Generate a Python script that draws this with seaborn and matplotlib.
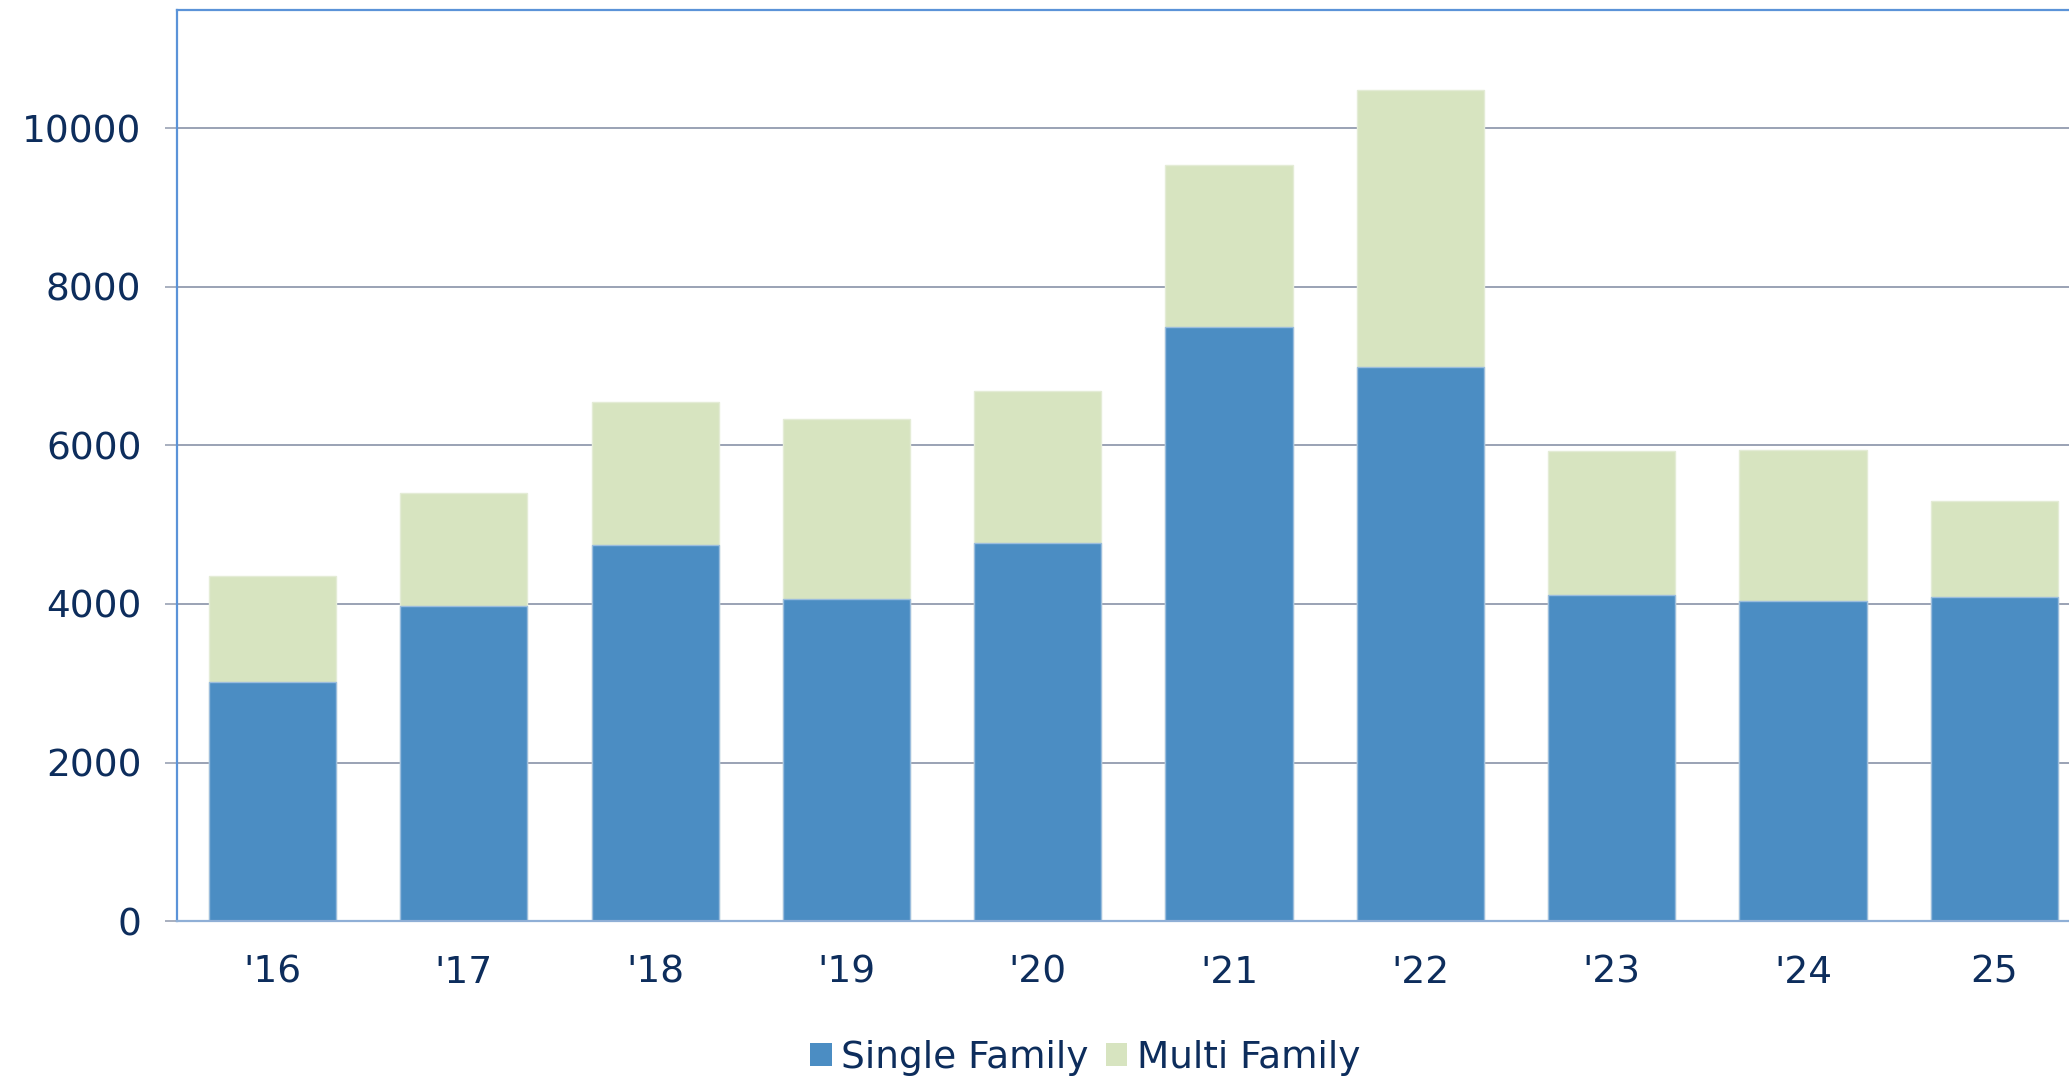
#!/usr/bin/env python3
# Stacked bars: single family vs multi family units per year
import matplotlib

matplotlib.use("Agg")
import matplotlib.pyplot as plt  # noqa: E402
from matplotlib.patches import Patch  # noqa: E402
from matplotlib.ticker import FixedLocator, MultipleLocator  # noqa: E402
import seaborn as sns  # noqa: E402

years = ["'16", "'17", "'18", "'19", "'20", "'21", "'22", "'23", "'24", "25"]
single_family = [3020, 3980, 4750, 4065, 4765, 7490, 6990, 4115, 4040, 4090]
multi_family = [1330, 1420, 1795, 2265, 1915, 2050, 3490, 1815, 1905, 1210]

BLUE = "#4B8DC3"
GREEN = "#D7E4C0"
TEXT = "#0D2D5C"
GRID = "#9AA2B4"


def plot(out_path):
    sns.set_style("white")
    plt.rcParams["font.family"] = ["DejaVu Sans"]

    fig = plt.figure(figsize=(20.69, 10.77), dpi=100)
    # axes runs a bit past the right edge, like the source
    ax = fig.add_axes([0.0855, 0.1446, 0.9246, 0.8462])

    totals = [s + m for s, m in zip(single_family, multi_family)]
    sns.barplot(ax=ax, x=years, y=totals, color=GREEN, saturation=1,
                width=0.665, edgecolor="#E4ECD6", linewidth=1)
    sns.barplot(ax=ax, x=years, y=single_family, color=BLUE, saturation=1,
                width=0.665, edgecolor="#9BBDDD", linewidth=1)

    ax.set_ylim(0, 11490)
    ax.set_xlim(-0.5, len(years) - 0.5)
    ax.yaxis.set_major_locator(MultipleLocator(2000))
    ax.set_axisbelow(True)
    ax.grid(axis="y", color=GRID, linewidth=1.4)
    ax.grid(axis="x", visible=False)

    ax.xaxis.set_minor_locator(FixedLocator([i - 0.5 for i in range(len(years) + 1)]))
    ax.tick_params(axis="x", which="major", length=0, pad=24, labelsize=27, labelcolor=TEXT)
    ax.tick_params(axis="x", which="minor", length=8, width=1.2, color=GRID, direction="out")
    ax.tick_params(axis="y", length=8.5, width=1.2, color=GRID, pad=17,
                   labelsize=27, labelcolor=TEXT, left=True)

    for side in ["left", "top"]:
        ax.spines[side].set_color("#5B93D8")
        ax.spines[side].set_linewidth(1.6)
    ax.spines["bottom"].set_color("#8FAFD6")
    ax.spines["bottom"].set_linewidth(1.6)
    ax.spines["right"].set_visible(False)
    ax.set_xlabel("")
    ax.set_ylabel("")

    handles = [Patch(facecolor=BLUE, edgecolor="none", label="Single Family"),
               Patch(facecolor=GREEN, edgecolor="none", label="Multi Family")]
    fig.legend(handles=handles, loc="center", bbox_to_anchor=(0.5245, 0.018), ncol=2,
               frameon=False, fontsize=27, labelcolor=TEXT, handlelength=0.58,
               handleheight=0.58, handletextpad=0.25, columnspacing=0.45)

    fig.savefig(out_path, dpi=100)
    plt.close(fig)


def main():
    plot("out.png")


if __name__ == "__main__":
    main()
